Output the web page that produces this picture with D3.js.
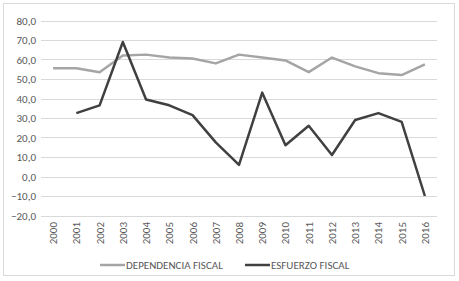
<!DOCTYPE html>
<html><head><meta charset="utf-8">
<script src="https://cdn.jsdelivr.net/npm/d3@7"></script>
<style>body{margin:0;background:#fff;} text{font-family:Carlito,"Liberation Sans",Arial,sans-serif;}</style>
</head><body><svg id="c" width="459" height="281"></svg>
<script>
const years = ["2000","2001","2002","2003","2004","2005","2006","2007","2008","2009","2010","2011","2012","2013","2014","2015","2016"];
const dependencia = [55.5,55.5,53.5,62,62.5,61,60.5,58,62.5,61,59.5,53.5,61,56.5,53,52,57.5];
const esfuerzo = [null,32.5,36.5,69,39.5,36.5,31.5,17.5,6,43,16,26,11,29,32.5,28,-10];
const yTicks = [-20,-10,0,10,20,30,40,50,60,70,80];
const seriesNames = ["DEPENDENCIA FISCAL","ESFUERZO FISCAL"];
const colors = ["#a5a5a5","#404040"];

const svg = d3.select("#c");
svg.append("rect").attr("x",3.5).attr("y",3.5).attr("width",451).attr("height",272)
  .attr("fill","#fff").attr("stroke","#d9d9d9");
const x = d3.scaleBand().domain(years).range([41.5,436.5]);
const y = d3.scaleLinear().domain([-20,80]).range([215.5,20.5]);
const fmt = d => d3.format(".1f")(d).replace(".",",");

svg.append("g").selectAll("line").data(yTicks).join("line")
  .attr("x1",41).attr("x2",437).attr("y1",d=>Math.round(y(d))+0.5).attr("y2",d=>Math.round(y(d))+0.5)
  .attr("stroke","#d9d9d9").attr("stroke-width",1);
svg.append("g").selectAll("text").data(yTicks).join("text")
  .attr("x",36).attr("y",d=>y(d)+4).attr("text-anchor","end")
  .attr("font-size",11).attr("fill","#595959").text(fmt);
svg.append("g").selectAll("text").data(years).join("text")
  .attr("transform",d=>`translate(${x(d)+x.bandwidth()/2+4},222) rotate(-90)`)
  .attr("text-anchor","end").attr("font-size",11).attr("fill","#595959").text(d=>d);

const line = d3.line().defined(d=>d.v!==null).x(d=>x(d.k)+x.bandwidth()/2).y(d=>y(d.v));
[dependencia, esfuerzo].forEach((arr,i)=>{
  svg.append("path").datum(arr.map((v,j)=>({k:years[j],v})))
    .attr("d",line).attr("fill","none").attr("stroke",colors[i]).attr("stroke-width",2.5)
    .attr("stroke-linejoin","round");
});
const lg = [{x:100,tx:126},{x:245,tx:271}];
seriesNames.forEach((n,i)=>{
  svg.append("line").attr("x1",lg[i].x).attr("x2",lg[i].x+25).attr("y1",265).attr("y2",265)
    .attr("stroke",colors[i]).attr("stroke-width",2.5);
  svg.append("text").attr("x",lg[i].tx).attr("y",269).attr("font-size",11).attr("fill","#595959").text(n);
});
</script></body></html>
